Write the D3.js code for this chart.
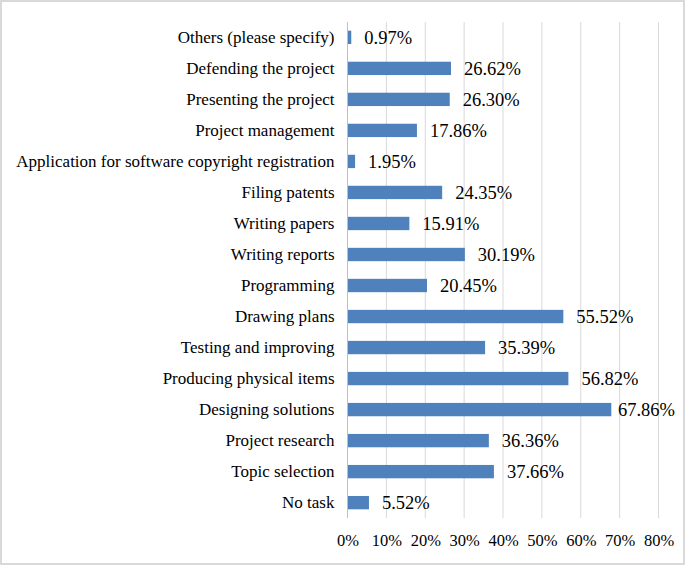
<!DOCTYPE html>
<html>
<head>
<meta charset="utf-8">
<script src="https://cdn.jsdelivr.net/npm/d3@7/dist/d3.min.js"></script>
<style>
  body { margin: 0; background: #fff; }
</style>
</head>
<body>
<svg id="viz"></svg>
<script>
// Tasks, listed bottom to top as in the chart
const categories = [
  "No task",
  "Topic selection",
  "Project research",
  "Designing solutions",
  "Producing physical items",
  "Testing and improving",
  "Drawing plans",
  "Programming",
  "Writing reports",
  "Writing papers",
  "Filing patents",
  "Application for software copyright registration",
  "Project management",
  "Presenting the project",
  "Defending the project",
  "Others (please specify)"
];
const values = [5.52, 37.66, 36.36, 67.86, 56.82, 35.39, 55.52, 20.45, 30.19, 15.91, 24.35, 1.95, 17.86, 26.30, 26.62, 0.97];
const xTicks = [0, 10, 20, 30, 40, 50, 60, 70, 80];

const width = 685, height = 565;
const margin = { top: 22, right: 27, bottom: 47, left: 347.5 };
const chartHeight = height - margin.top - margin.bottom;
const font = "'Liberation Serif', 'Times New Roman', serif";

const svg = d3.select("#viz")
  .attr("width", width)
  .attr("height", height);

// frame
svg.append("rect")
  .attr("x", 1).attr("y", 1)
  .attr("width", width - 2).attr("height", height - 2)
  .attr("fill", "#fff")
  .attr("stroke", "#d9d9d9")
  .attr("stroke-width", 2);

const g = svg.append("g")
  .attr("transform", `translate(${margin.left}, ${margin.top})`);

const xScale = d3.scaleLinear()
  .domain([0, 80])
  .range([0, 311]);

const yScale = d3.scaleBand()
  .domain(categories.slice().reverse())
  .range([0, chartHeight])
  .paddingInner(0.57)
  .paddingOuter(0.28);

// gridlines
g.selectAll(".grid")
  .data(xTicks.slice(1))
  .enter()
  .append("line")
  .attr("class", "grid")
  .attr("x1", d => xScale(d))
  .attr("x2", d => xScale(d))
  .attr("y1", 0)
  .attr("y2", chartHeight)
  .attr("stroke", "#d9d9d9");

// bars
g.selectAll(".bar")
  .data(categories)
  .enter()
  .append("rect")
  .attr("class", "bar")
  .attr("x", xScale(0))
  .attr("y", d => yScale(d))
  .attr("width", (d, i) => xScale(values[i]) - xScale(0))
  .attr("height", yScale.bandwidth())
  .attr("fill", "#4f81bd");

// axis line
g.append("line")
  .attr("x1", xScale(0)).attr("x2", xScale(0))
  .attr("y1", 0).attr("y2", chartHeight)
  .attr("stroke", "#bfbfbf");

// value labels (kept inside the plot area like Excel does)
const plotRight = width - margin.left - 10;
g.selectAll(".val")
  .data(categories)
  .enter()
  .append("text")
  .attr("class", "val")
  .attr("y", d => yScale(d) + yScale.bandwidth() / 2)
  .attr("dy", "0.35em")
  .attr("font-family", font)
  .attr("font-size", 18.5)
  .attr("fill", "#000")
  .text((d, i) => values[i].toFixed(2) + "%")
  .attr("x", function(d, i) {
    const w = this.getComputedTextLength();
    return Math.min(xScale(values[i]) + 13, plotRight - w);
  });

// category labels
const yAxis = g.append("g")
  .call(d3.axisLeft(yScale).tickSize(0).tickPadding(13));
yAxis.select(".domain").remove();
yAxis.attr("font-family", font).attr("font-size", 17);
yAxis.selectAll("text").attr("fill", "#000");

// x axis
const xAxis = g.append("g")
  .attr("transform", `translate(0, ${chartHeight})`)
  .call(d3.axisBottom(xScale).tickValues(xTicks).tickSize(0).tickPadding(16).tickFormat(d => d + "%"));
xAxis.select(".domain").remove();
xAxis.attr("font-family", font).attr("font-size", 16.5);
xAxis.selectAll("text").attr("fill", "#000");
</script>
</body>
</html>
